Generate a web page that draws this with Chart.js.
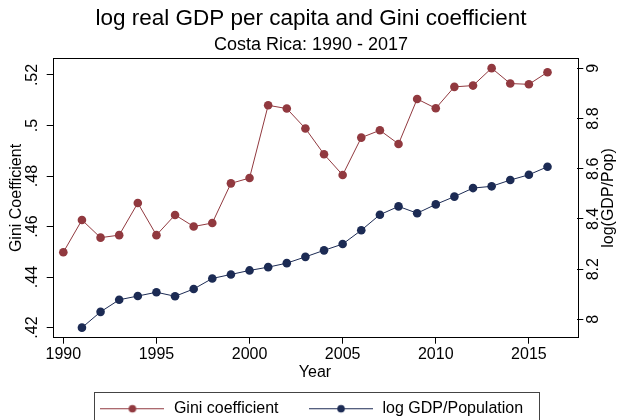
<!DOCTYPE html>
<html><head><meta charset="utf-8">
<script src="https://cdn.jsdelivr.net/npm/chart.js@4/dist/chart.umd.min.js"></script>
<style>html,body{margin:0;padding:0;background:#fff}#wrap{width:622px;height:420px}</style>
</head><body><div id="wrap"><canvas id="c" width="622" height="420"></canvas></div>
<script>
const years = [1990,1991,1992,1993,1994,1995,1996,1997,1998,1999,2000,2001,2002,2003,2004,2005,2006,2007,2008,2009,2010,2011,2012,2013,2014,2015,2016];
const giniValues = [0.4498,0.4626,0.4556,0.4566,0.4693,0.4566,0.4646,0.4600,0.4614,0.4771,0.4792,0.5080,0.5067,0.4988,0.4886,0.4804,0.4952,0.4981,0.4927,0.5105,0.5068,0.5153,0.5158,0.5227,0.5166,0.5163,0.5211];
const gdpValues = [null,7.967,8.030,8.078,8.093,8.108,8.092,8.121,8.163,8.179,8.195,8.208,8.224,8.249,8.275,8.300,8.355,8.417,8.450,8.423,8.458,8.489,8.523,8.530,8.555,8.576,8.608];
const xTickValues = [1990,1995,2000,2005,2010,2015];
const giniTickValues = [0.42,0.44,0.46,0.48,0.50,0.52];
const giniTickLabels = ['.42','.44','.46','.48','.5','.52'];
const gdpTickValues = [8,8.2,8.4,8.6,8.8,9];
const gdpTickLabels = ['8','8.2','8.4','8.6','8.8','9'];
const seriesLabels = ['Gini coefficient','log GDP/Population'];
const titleText = 'log real GDP per capita and Gini coefficient';
const subtitleText = 'Costa Rica: 1990 - 2017';

const FONT = 'Liberation Sans, Arial, Helvetica, sans-serif';
const RED = '#91393f', NAVY = '#1c2b54';
Chart.defaults.font.family = FONT;
Chart.defaults.color = '#000';

function makeMarker(color){
  const c = document.createElement('canvas');
  c.width = 64; c.height = 12;
  const g = c.getContext('2d');
  g.strokeStyle = color; g.lineWidth = 1;
  g.beginPath(); g.moveTo(0,6.5); g.lineTo(64,6.5); g.stroke();
  g.fillStyle = color;
  g.beginPath(); g.arc(32,6.5,3.8,0,2*Math.PI); g.fill();
  return c;
}
const markers = [makeMarker(RED), makeMarker(NAVY)];

const toXY = (vals) => years.map((y,i)=>({x:y, y:vals[i]}));

const framePlugin = {
  id:'frame',
  afterDraw(chart){
    const {ctx, chartArea:a} = chart;
    ctx.save();
    ctx.strokeStyle = '#000'; ctx.lineWidth = 1;
    ctx.strokeRect(Math.round(a.left)+0.5, Math.round(a.top)+0.5, Math.round(a.right-a.left), Math.round(a.bottom-a.top));
    // right axis title, reading bottom to top
    const s = chart.scales.y2;
    ctx.fillStyle = '#000';
    ctx.font = '16px ' + FONT;
    ctx.textAlign = 'center'; ctx.textBaseline = 'middle';
    ctx.translate(s.left + 31.5, (a.top + a.bottom)/2);
    ctx.rotate(-Math.PI/2);
    ctx.fillText('log(GDP/Pop)', 0, 0);
    ctx.restore();
    // legend border
    const hb = chart.legend.legendHitBoxes;
    if (hb && hb.length){
      const last = hb[hb.length-1];
      const l = Math.round(hb[0].left - 5)+0.5;
      const r = Math.round(last.left + last.width + 16)+0.5;
      const t = Math.round(hb[0].top + hb[0].height/2 - 16.6)+0.5;
      ctx.save();
      ctx.strokeStyle = '#444'; ctx.lineWidth = 1;
      ctx.strokeRect(l, t, r-l, 60);
      ctx.restore();
    }
  }
};

new Chart(document.getElementById('c'), {
  type:'line',
  data:{
    datasets:[
      {label:seriesLabels[0], data:toXY(giniValues), yAxisID:'y', borderColor:RED, backgroundColor:RED, borderWidth:1, pointRadius:4.3, pointBorderWidth:0, pointBackgroundColor:RED, tension:0},
      {label:seriesLabels[1], data:toXY(gdpValues), yAxisID:'y2', borderColor:NAVY, backgroundColor:NAVY, borderWidth:1, pointRadius:4.3, pointBorderWidth:0, pointBackgroundColor:NAVY, tension:0}
    ]
  },
  options:{
    responsive:false, animation:false, devicePixelRatio:1,
    layout:{padding:0},
    plugins:{
      title:{display:true, text:titleText, color:'#000', font:{size:22.5, weight:'normal'}, padding:{top:4.9, bottom:0}},
      subtitle:{display:true, text:subtitleText, color:'#000', font:{size:18, weight:'normal'}, padding:{top:2.1, bottom:2.7}},
      legend:{
        display:true, position:'bottom', maxHeight:48.8,
        labels:{
          usePointStyle:true, pointStyleWidth:67, padding:29, color:'#000', font:{size:16},
          generateLabels:(chart)=>chart.data.datasets.map((ds,i)=>({text:ds.label, pointStyle:markers[i], fillStyle:ds.borderColor, strokeStyle:ds.borderColor, lineWidth:0, hidden:false, datasetIndex:i, fontColor:'#000'}))
        }
      },
      tooltip:{enabled:false}
    },
    scales:{
      x:{
        type:'linear', min:1989.43, max:2017.6,
        afterBuildTicks:(s)=>{s.ticks = xTickValues.map(v=>({value:v}));},
        ticks:{font:{size:16}, color:'#000', padding:1, maxRotation:0, autoSkip:false, callback:(v)=>String(v)},
        grid:{drawOnChartArea:false, drawTicks:true, tickLength:6, color:'#000'},
        border:{display:false},
        title:{display:true, text:'Year', color:'#000', font:{size:16}, padding:{top:0, bottom:-10.6}},
        afterFit:(s)=>{s.height = 33.5;}
      },
      y:{
        type:'linear', position:'left', min:0.416, max:0.5266,
        afterBuildTicks:(s)=>{s.ticks = giniTickValues.map(v=>({value:v}));},
        ticks:{font:{size:16}, color:'#000', minRotation:90, maxRotation:90, crossAlign:'center', padding:2.6, autoSkip:false, callback:(v,i)=>giniTickLabels[i]},
        grid:{drawOnChartArea:false, drawTicks:true, tickLength:6, color:'#000'},
        border:{display:false},
        title:{display:true, text:'Gini Coefficient', color:'#000', font:{size:16}, padding:{top:7.4, bottom:0}},
        afterFit:(s)=>{s.width = 52.7;}
      },
      y2:{
        type:'linear', position:'right', min:7.927, max:9.04,
        afterBuildTicks:(s)=>{s.ticks = gdpTickValues.map(v=>({value:v}));},
        ticks:{font:{size:16}, color:'#000', minRotation:90, maxRotation:90, crossAlign:'center', padding:-0.5, autoSkip:false, callback:(v,i)=>gdpTickLabels[i]},
        grid:{drawOnChartArea:false, drawTicks:true, tickLength:6, color:'#000'},
        border:{display:false},
        title:{display:false},
        afterFit:(s)=>{s.width = 44.7;}
      }
    }
  },
  plugins:[framePlugin]
});
</script>
</body></html>
